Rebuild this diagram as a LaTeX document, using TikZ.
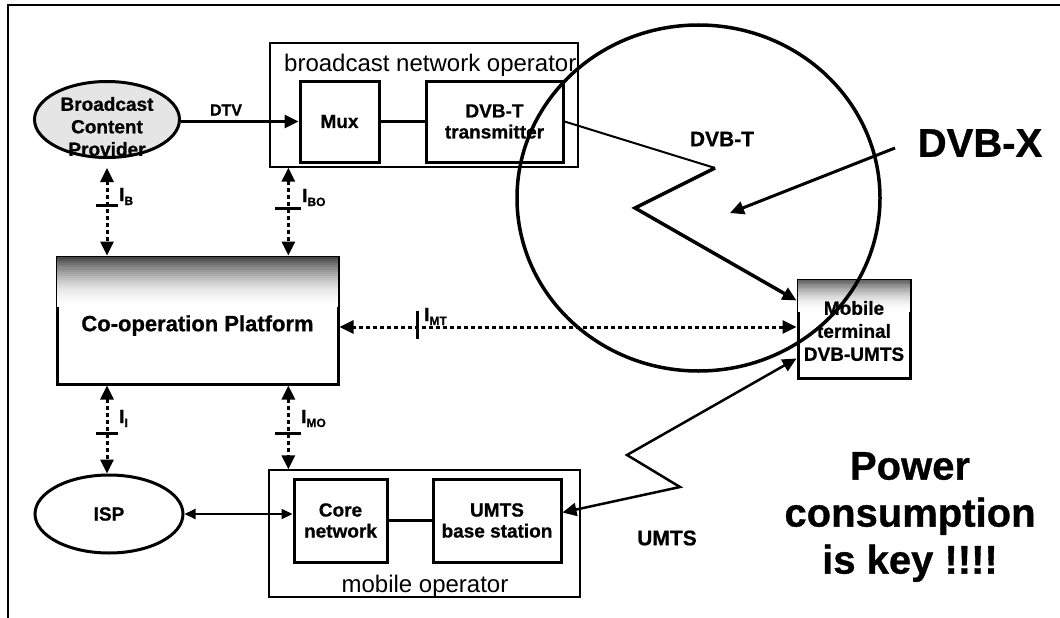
\documentclass[tikz,border=0pt]{standalone}
\usepackage{fontspec}
\setmainfont{Liberation Sans}[BoldFeatures={FakeBold=0.8}]
\usetikzlibrary{arrows.meta,calc,shapes.geometric}

% interface label: I with a lowered small subscript
\newcommand\subI[1]{I\raisebox{-4pt}{\fontsize{12}{12}\selectfont #1}}

% grey band fading to white below the top edge of a box node
% #1 node name, #2 band depth (in picture units), #3 darkest grey percentage
\newcommand\topfade[3]{%
  \foreach \k in {0,...,23} {
    \pgfmathsetmacro\pc{#3*(1-\k/24)^2}
    \fill[black!\pc]
      ($(#1.north west)+(1.5,1.5+#2*\k/24)$) rectangle
      ($(#1.north east)+(-1.5,1.5+#2*\k/24+#2/24+0.4)$);
  }}

\tikzset{
  tri/.tip={Triangle[length=14pt,width=13pt]},
  smalltri/.tip={Triangle[length=11pt,width=10pt]},
  box/.style={draw,line width=3pt,inner sep=0pt,align=center,
    font=\bfseries\fontsize{19}{21}\selectfont},
  outerbox/.style={draw,line width=1.3pt,inner sep=0pt},
  cloud/.style={draw,ellipse,line width=3pt,inner sep=0pt},
  cloudtext/.style={inner sep=0pt,align=center,font=\bfseries\fontsize{19}{22.5}\selectfont},
  iface/.style={line width=3pt,dash pattern=on 4pt off 3pt,{tri}-{tri}},
  bar/.style={line width=3pt},
  ilabel/.style={inner sep=0pt,anchor=base west,font=\bfseries\fontsize{19}{19}\selectfont},
  lbl/.style={inner sep=0pt,font=\bfseries\fontsize{21}{23}\selectfont},
  big/.style={inner sep=0pt,align=center,font=\bfseries\fontsize{40}{47}\selectfont},
  oplabel/.style={inner sep=0pt,font=\fontsize{24}{26}\selectfont},
  radio/.style={line width=3.5pt,line join=miter},
}

\begin{document}
\begin{tikzpicture}[x=1pt,y=-1pt]
\useasboundingbox (0,0) rectangle (1060,618);

% page frame (top and left rules)
\coordinate (f0) at (8,618);
\coordinate (f1) at (8,5);
\coordinate (f2) at (1060,5);
\draw[line width=1.5pt] (f0) -- (f1) -- (f2);

% broadcast side
\node[outerbox,minimum width=308pt,minimum height=124pt] (bno) at (424,105) {};
\node[oplabel,anchor=base west] (bnolbl) at (284,72) {broadcast network operator};
\node[box,minimum width=79pt,minimum height=81pt] (mux) at (339.5,121.5) {Mux};
\node[box,minimum width=137pt,minimum height=81pt] (tx) at (494.5,121.5) {DVB-T\\transmitter};

\node[cloud,fill=gray!20,minimum width=145pt,minimum height=76pt] (bcp) at (107,119.5) {};
\node[cloudtext] (bcptxt) at ($(bcp.center)+(0,7)$) {Broadcast\\Content\\Provider};

% co-operation platform
\node[box,minimum width=281pt,minimum height=127pt] (coop) at (197.5,320.5) {};
\topfade{coop}{50}{72}
\node[inner sep=0pt,font=\bfseries\fontsize{22}{24}\selectfont] (cooptxt) at ($(coop.center)+(0,5)$) {Co-operation Platform};

% mobile side
\node[cloud,minimum width=148pt,minimum height=78pt,
      font=\bfseries\fontsize{19}{21}\selectfont] (isp) at (109,514) {ISP};
\node[outerbox,minimum width=311pt,minimum height=127pt] (mo) at (424.5,533.5) {};
\node[oplabel,anchor=base] (molbl) at (425,592) {mobile operator};
\node[box,minimum width=93pt,minimum height=83pt] (core) at (340.5,520.5) {Core\\network};
\node[box,minimum width=128pt,minimum height=83pt] (ubs) at (497,520.5) {UMTS\\base station};

% terminal
\node[box,minimum width=112pt,minimum height=98pt] (mt) at (854,329) {};
\topfade{mt}{32}{62}
\node[inner sep=0pt,align=center,font=\bfseries\fontsize{19}{23}\selectfont] (mttxt) at ($(mt.center)+(0,2)$) {Mobile\\terminal\\DVB-UMTS};

% content feed and internal links
\draw[line width=3pt,-{tri}] (bcp.east |- mux.west) -- (mux.west);
\node[inner sep=0pt,font=\bfseries\fontsize{16}{18}\selectfont] (dtv) at (226,110) {DTV};
\draw[line width=2.5pt] (mux.east) -- (tx.west);
\draw[line width=2.5pt] (core.east) -- (ubs.west);
\draw[line width=2pt,{smalltri}-{smalltri}] (isp.east) -- (isp.east -| core.west);

% interfaces to the platform
\coordinate (bo) at ($(bno.south west)+(19,0)$);
\coordinate (mtin) at ($(mt.west)+(0,-2)$);
\draw[iface,shorten <=9pt] (bcp.south) -- (bcp.south |- coop.north);
\draw[iface] (bo) -- (bo |- coop.north);
\draw[iface] (bcp.south |- coop.south) -- (bcp.south |- isp.north);
\draw[iface] (bo |- coop.south) -- (bo |- mo.north);
\draw[iface] (mtin) -- (mtin -| coop.east);

\coordinate (tB)  at ($(bcp.south)!0.48!(bcp.south |- coop.north)$);
\coordinate (tBO) at ($(bo)!0.46!(bo |- coop.north)$);
\coordinate (tI)  at ($(bcp.south |- coop.south)!0.54!(bcp.south |- isp.north)$);
\coordinate (tMO) at ($(bo |- coop.south)!0.57!(bo |- mo.north)$);
\coordinate (tMT) at ($(mtin -| coop.east)!0.17!(mtin)$);
\draw[bar] ([xshift=-11pt]tB) -- ([xshift=11pt]tB);
\draw[bar] ([xshift=-13pt]tBO) -- ([xshift=13pt]tBO);
\draw[bar] ([xshift=-11pt]tI) -- ([xshift=11pt]tI);
\draw[bar] ([xshift=-13pt]tMO) -- ([xshift=13pt]tMO);
\draw[bar] ([yshift=16pt]tMT) -- ([yshift=-12pt]tMT);

\node[ilabel] (lB)  at (119,201) {\subI{B}};
\node[ilabel] (lBO) at (302,202) {\subI{BO}};
\node[ilabel] (lI)  at (119,423) {\subI{I}};
\node[ilabel] (lMO) at (301,423) {\subI{MO}};
\node[ilabel] (lMT) at (424,321) {\subI{MT}};

% DVB-T broadcast link
\coordinate (d1) at (715,168);
\coordinate (d2) at (635,208);
\draw[line width=2pt] (tx.east) -- (d1);
\draw[radio,-{tri}] (d1) -- (d2) -- ($(mt.north west)+(0,22)$);
\node[lbl] (dvbt) at (722,139) {DVB-T};

% UMTS link
\coordinate (u1) at (627,455);
\coordinate (u2) at (680,487);
\draw[line width=2.5pt,line join=miter,{tri}-{tri}] ($(mt.south west)+(0,-21)$) -- (u1) -- (u2) -- ($(ubs.east)+(0,-8)$);
\node[lbl] (umts) at (667,538) {UMTS};

% coverage area
\node[draw,ellipse,line width=3.5pt,inner sep=0pt,minimum width=363pt,minimum height=346pt] (cell) at (698.5,198) {};

% DVB-X pointer
\node[big] (dvbx) at (980,143) {DVB-X};
\coordinate (xs) at (895,148);
\coordinate (xt) at (730,213);
\draw[line width=3pt,-{tri}] (xs) -- (xt);

\node[big] (power) at (910,517) {Power\\consumption\\is key !!!!};
\end{tikzpicture}
\end{document}
